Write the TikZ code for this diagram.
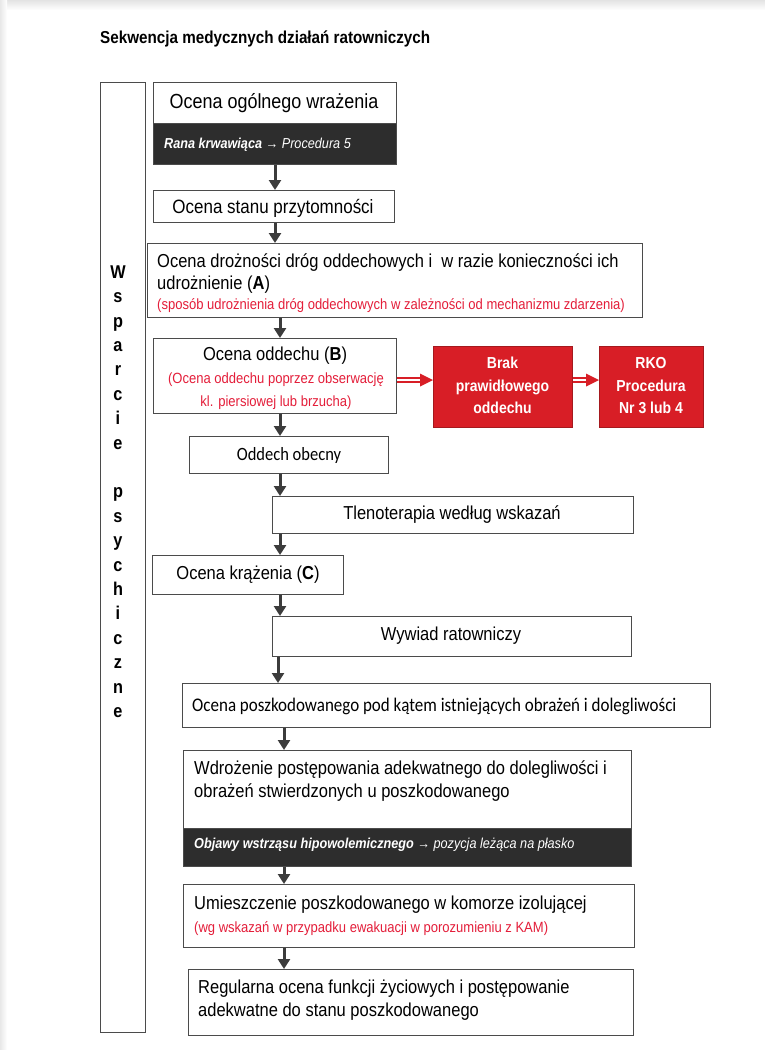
\documentclass[tikz,border=0pt]{standalone}
\usepackage{fontspec}
\setmainfont{Liberation Sans}[FakeStretch=0.88]
\newfontfamily\calibfont{Carlito}[FakeStretch=0.88]
\usetikzlibrary{arrows.meta,calc}
\definecolor{bordercol}{RGB}{75,75,75}
\definecolor{arrowcol}{RGB}{60,60,60}
\definecolor{darkband}{RGB}{45,45,45}
\definecolor{redtxt}{RGB}{228,30,58}
\definecolor{redbox}{RGB}{216,30,38}
\definecolor{redborder}{RGB}{165,25,30}
\newcommand{\setfs}[2]{\fontsize{#1}{#2}\selectfont}
\begin{document}
\begin{tikzpicture}[x=1pt,y=-1pt,
 box/.style={draw=bordercol, line width=1.1pt, fill=white, inner sep=0pt, anchor=north west},
 band/.style={draw=bordercol, line width=1.1pt, fill=darkband, inner sep=0pt, anchor=north west},
 redb/.style={draw=redborder, line width=0.8pt, fill=redbox, inner sep=0pt, anchor=north west},
 txt/.style={inner sep=0pt, anchor=base west, font=\setfs{18.75}{22}},
 ctxt/.style={inner sep=0pt, anchor=base, font=\setfs{18.75}{22}},
 note/.style={inner sep=0pt, anchor=base west, text=redtxt, font=\setfs{14.8}{17}},
 bandtxt/.style={inner sep=0pt, anchor=base west, text=white, font=\itshape\setfs{14.4}{17}},
 whtxt/.style={inner sep=0pt, anchor=base, text=white, font=\bfseries\setfs{15.9}{18}},
 arr/.style={draw=arrowcol, line width=3pt, -{Triangle[width=12pt,length=10pt]}},
 dbl/.style={draw=redbox, double=white, double distance=2.2pt, line width=1.7pt},
]
\useasboundingbox (0,0) rectangle (765,1050);
\fill[white] (0,0) rectangle (765,1050);
\shade[top color=gray!22, bottom color=white] (0,0) rectangle (765,10);
\shade[left color=gray!18, right color=white] (0,0) rectangle (7,1050);

% title
\node[inner sep=0pt, anchor=base west, font=\bfseries\setfs{17.3}{20}] (title) at (100,43.5) {Sekwencja medycznych działań ratowniczych};

% side bar
\node[box, minimum width=45pt, minimum height=950pt] (side) at (100,82) {};
\node[inner sep=0pt, anchor=north, align=center, font=\bfseries\setfs{18.5}{24.4}] (sidet) at (118,265.3)
 {W\\s\\p\\a\\r\\c\\i\\e\\[24.4pt]p\\s\\y\\c\\h\\i\\c\\z\\n\\e};

% box 1
\node[box, minimum width=243pt, minimum height=41pt] (b1) at (153,82) {};
\node[band, minimum width=243pt, minimum height=41pt] (b1d) at (153,123) {};
\node[ctxt, font=\setfs{20.4}{24}] (b1t) at (274,108) {Ocena ogólnego wrażenia};
\node[bandtxt] (b1dt) at (164,148.5) {\textbf{Rana krwawiąca} → Procedura 5};

% box 2
\node[box, minimum width=241pt, minimum height=32pt] (b2) at (153,190) {};
\node[ctxt, font=\setfs{19.3}{22}] (b2t) at (273,213) {Ocena stanu przytomności};

% box 3
\node[box, minimum width=495pt, minimum height=74pt] (b3) at (147,243) {};
\node[txt] (b3t1) at (157,267) {Ocena drożności dróg oddechowych i\ \ w razie konieczności ich};
\node[txt] (b3t2) at (157,289) {udrożnienie (\textbf{A})};
\node[note] (b3t3) at (157,309) {(sposób udrożnienia dróg oddechowych w zależności od mechanizmu zdarzenia)};

% box 4
\node[box, minimum width=243pt, minimum height=75pt] (b4) at (153,338) {};
\node[ctxt] (b4t) at (275,360) {Ocena oddechu (\textbf{B})};
\node[note, anchor=base] (b4n1) at (276,383) {(Ocena oddechu poprzez obserwację};
\node[note, anchor=base] (b4n2) at (276,406) {kl. piersiowej lub brzucha)};

% red boxes
\node[redb, minimum width=139pt, minimum height=81pt] (brak) at (433,346) {};
\node[whtxt] (brak1) at (502.5,368) {Brak};
\node[whtxt] (brak2) at (502.5,391) {prawidłowego};
\node[whtxt] (brak3) at (502.5,413) {oddechu};
\node[redb, minimum width=104pt, minimum height=81pt] (rko) at (599,346) {};
\node[whtxt] (rko1) at (651,368) {RKO};
\node[whtxt] (rko2) at (651,391) {Procedura};
\node[whtxt] (rko3) at (651,413) {Nr 3 lub 4};

\coordinate (ya) at (0,380);
\draw[dbl] (b4.east |- ya) -- ($(brak.west |- ya)+(-11,0)$);
\fill[redbox] (brak.west |- ya) -- ++(-13,-6.5) -- ++(0,13) -- cycle;
\draw[dbl] (brak.east |- ya) -- ($(rko.west |- ya)+(-11,0)$);
\fill[redbox] (rko.west |- ya) -- ++(-13,-6.5) -- ++(0,13) -- cycle;

% box 5
\node[box, minimum width=199pt, minimum height=37pt] (b5) at (189,436) {};
\node[ctxt, font=\calibfont\setfs{18.75}{22}] (b5t) at (289,460) {Oddech obecny};

% box 6
\node[box, minimum width=361pt, minimum height=37pt] (b6) at (272,496) {};
\node[ctxt] (b6t) at (452,519) {Tlenoterapia według wskazań};

% box 7
\node[box, minimum width=191pt, minimum height=39pt] (b7) at (152,555) {};
\node[ctxt] (b7t) at (248,579) {Ocena krążenia (\textbf{C})};

% box 8
\node[box, minimum width=359pt, minimum height=40pt] (b8) at (272,616) {};
\node[ctxt] (b8t) at (451,640) {Wywiad ratowniczy};

% box 9
\node[box, minimum width=528pt, minimum height=44pt] (b9) at (182,683) {};
\node[txt, font=\calibfont\setfs{19.3}{22}] (b9t) at (192,711) {Ocena poszkodowanego pod kątem istniejących obrażeń i dolegliwości};

% box 10
\node[box, minimum width=448pt, minimum height=78pt] (b10) at (183,750) {};
\node[band, minimum width=448pt, minimum height=38pt] (b10d) at (183,828) {};
\node[txt] (b10t1) at (194,774) {Wdrożenie postępowania adekwatnego do dolegliwości i};
\node[txt] (b10t2) at (194,797) {obrażeń stwierdzonych u poszkodowanego};
\node[bandtxt] (b10dt) at (194,848) {\textbf{Objawy wstrząsu hipowolemicznego} → pozycja leżąca na płasko};

% box 11
\node[box, minimum width=451pt, minimum height=63pt] (b11) at (183,884) {};
\node[txt] (b11t) at (194,909) {Umieszczenie poszkodowanego w komorze izolującej};
\node[note] (b11n) at (194,932) {(wg wskazań w przypadku ewakuacji w porozumieniu z KAM)};

% box 12
\node[box, minimum width=445pt, minimum height=66pt] (b12) at (188,969) {};
\node[txt] (b12t1) at (198,993) {Regularna ocena funkcji życiowych i postępowanie};
\node[txt] (b12t2) at (198,1016) {adekwatne do stanu poszkodowanego};

% arrows
\coordinate (x1) at (275,0);
\coordinate (x2) at (280,0);
\coordinate (x3) at (278,0);
\coordinate (x4) at (284,0);
\draw[arr] (b1d.south -| x1) -- (b2.north -| x1);
\draw[arr] (b2.south -| x1) -- (b3.north -| x1);
\draw[arr] (b3.south -| x2) -- (b4.north -| x2);
\draw[arr] (b4.south -| x2) -- (b5.north -| x2);
\draw[arr] (b5.south -| x2) -- (b6.north -| x2);
\draw[arr] (b6.south -| x2) -- (b7.north -| x2);
\draw[arr] (b7.south -| x2) -- (b8.north -| x2);
\draw[arr] (b8.south -| x3) -- (b9.north -| x3);
\draw[arr] (b9.south -| x4) -- (b10.north -| x4);
\draw[arr] (b10d.south -| x4) -- (b11.north -| x4);
\draw[arr] (b11.south -| x4) -- (b12.north -| x4);
\end{tikzpicture}
\end{document}
